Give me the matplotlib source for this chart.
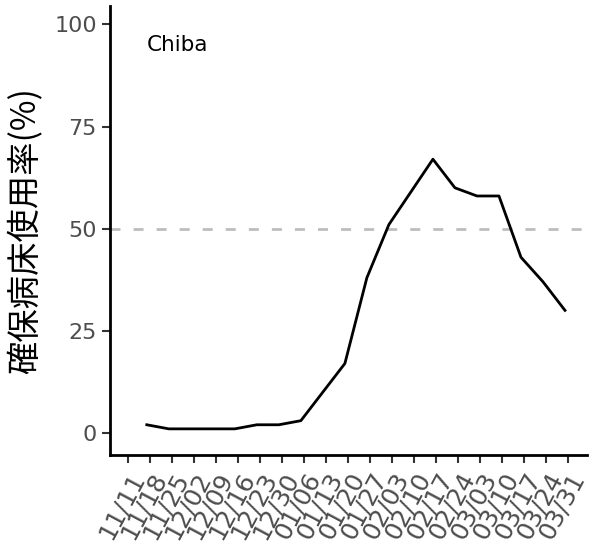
import matplotlib
matplotlib.use('Agg')
import matplotlib.pyplot as plt

# weekly dates, days counted from 11/11
tick_labels = ['11/11', '11/18', '11/25', '12/02', '12/09', '12/16', '12/23', '12/30',
               '01/06', '01/13', '01/20', '01/27', '02/03', '02/10', '02/17', '02/24',
               '03/03', '03/10', '03/17', '03/24', '03/31']
tick_days = [7 * i for i in range(len(tick_labels))]

# reported one day before each tick date (11/17 ... 03/30)
data_days = [6, 13, 20, 27, 34, 41, 48, 55, 62, 69, 76, 83, 90, 97, 104, 111, 118, 125, 132, 139]
usage = [2, 1, 1, 1, 1, 2, 2, 3, 10, 17, 38, 51, 59, 67, 60, 58, 58, 43, 37, 30]

region = 'Chiba'

fig = plt.figure(figsize=(5.96, 5.48), dpi=100)
ax = fig.add_axes([110 / 596, 93 / 548, 477 / 596, 449 / 548])

ax.axhline(50, color='#bdbdbd', lw=2, dashes=(3.6, 4.7), zorder=1)
ax.plot(data_days, usage, color='black', lw=2, zorder=2)
ax.text(6, 95, region, fontsize=15.5, ha='left', va='center', family='DejaVu Sans')

ax.set_xlim(-5.7, 146)
ax.set_ylim(-5.4, 104.5)
ax.set_yticks([0, 25, 50, 75, 100])
ax.set_xticks(tick_days)
ax.set_xticklabels(tick_labels, rotation=62, ha='right', va='top',
                   rotation_mode='anchor', fontsize=18, color='#4d4d4d')
ax.tick_params(axis='y', labelsize=16, labelcolor='#4d4d4d')
ax.tick_params(length=6, width=1.5, color='#333333')

for s in ['top', 'right']:
    ax.spines[s].set_visible(False)
for s in ['left', 'bottom']:
    ax.spines[s].set_linewidth(2)

ax.set_ylabel('確保病床使用率(%)', fontsize=24, labelpad=8,
              family=['Noto Sans CJK JP', 'DejaVu Sans'])

fig.savefig('out.png', dpi=100)
